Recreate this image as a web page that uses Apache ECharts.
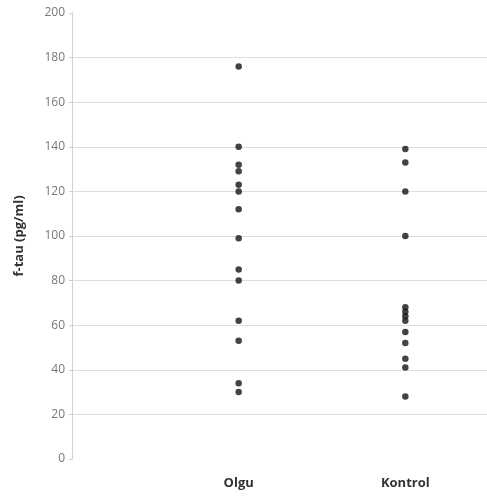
<!DOCTYPE html>
<html>
<head>
<meta charset="utf-8">
<script src="https://cdn.jsdelivr.net/npm/echarts@6/dist/echarts.min.js"></script>
<style>html,body{margin:0;padding:0;background:#fff;}#c{width:487px;height:500px;}</style>
</head>
<body>
<div id="c"></div>
<script>
var categories = ['Olgu', 'Kontrol'];
var olguValues = [176, 140, 132, 129, 123, 120, 112, 99, 85, 80, 62, 53, 34, 30];
var kontrolValues = [139, 133, 120, 100, 68, 66, 64, 62, 57, 52, 45, 41, 28];
var yTicks = [0, 20, 40, 60, 80, 100, 120, 140, 160, 180, 200];

var chart = echarts.init(document.getElementById('c'), null, {renderer: 'canvas'});
var gridColors = yTicks.map(function (v) { return (v === 0 || v === 200) ? 'rgba(0,0,0,0)' : '#dedede'; });
chart.setOption({
  animation: false,
  grid: {left: 72, right: 0, top: 13, bottom: 41, containLabel: false},
  xAxis: {
    type: 'value', min: 0, max: 2.49, interval: 1,
    axisLine: {show: false}, axisTick: {show: false}, splitLine: {show: false},
    axisLabel: {
      margin: 18,
      color: '#333', fontFamily: 'Open Sans', fontWeight: 'bold', fontSize: 13,
      showMaxLabel: false,
      formatter: function (v) {
        if (Math.abs(v - 1) < 1e-6) return categories[0];
        if (Math.abs(v - 2) < 1e-6) return categories[1];
        return '';
      }
    }
  },
  yAxis: {
    type: 'value', min: 0, max: 200, interval: 20,
    name: 'f-tau (pg/ml)', nameLocation: 'middle', nameGap: 46,
    nameTextStyle: {color: '#333', fontFamily: 'Open Sans', fontWeight: 'bold', fontSize: 13},
    axisLine: {show: true, lineStyle: {color: '#d0d0d0', width: 1}},
    axisTick: {show: true, length: 3, lineStyle: {color: '#d0d0d0'}},
    axisLabel: {color: '#777', fontFamily: 'Open Sans', fontSize: 12, margin: 7},
    splitLine: {show: true, lineStyle: {color: gridColors, width: 1}}
  },
  series: [
    {
      type: 'scatter', symbol: 'circle', symbolSize: 6.5,
      itemStyle: {color: '#141414'},
      data: olguValues.map(function (v) { return [1, v]; })
    },
    {
      type: 'scatter', symbol: 'circle', symbolSize: 6.5,
      itemStyle: {color: '#141414'},
      data: kontrolValues.map(function (v) { return [2, v]; })
    }
  ]
});
</script>
</body>
</html>
